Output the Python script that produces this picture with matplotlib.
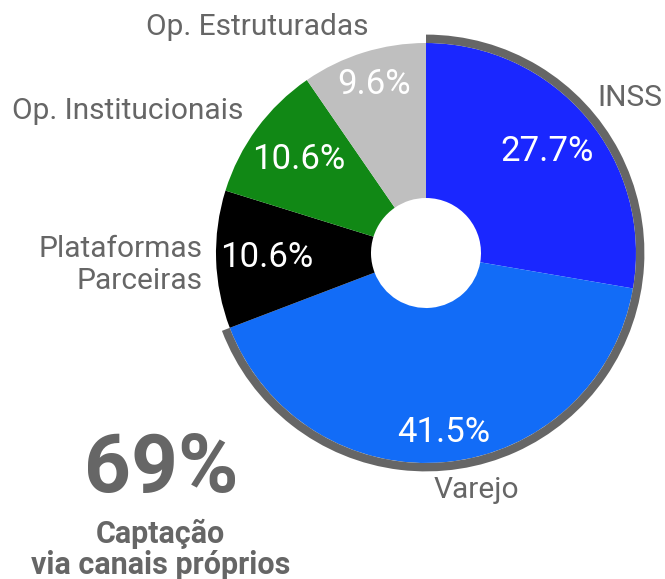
import matplotlib
matplotlib.use("Agg")
import matplotlib.pyplot as plt
from matplotlib.patches import Wedge
import numpy as np

# ---- data ----
categories = ["INSS", "Varejo", "Plataformas\nParceiras", "Op. Institucionais", "Op. Estruturadas"]
shares = [27.7, 41.5, 10.6, 10.6, 9.6]
colors = ["#1A27FF", "#126CF7", "#000000", "#118815", "#BFBFBF"]
own_channels = ["INSS", "Varejo"]
own_total_label = "69%"
caption_lines = ["Captação", "via canais próprios"]

# ---- style / layout ----
plt.rcParams['font.family'] = ['Roboto', 'DejaVu Sans']
W, H, DPI = 6.65, 5.79, 100
cx_px, cy_px, r_px = 426, 253, 210
gray = "#666666"

pct_dist = [0.752, 0.857, 0.757, 0.752, 0.838]
label_pos = [(597, 98, 'left'), (476, 490, 'center'), (202, 265, 'right'),
             (243, 111, 'right'), (257, 27, 'center')]

fig = plt.figure(figsize=(W, H), dpi=DPI)
ax = fig.add_axes([0, 0, 1, 1])

def px(x, y):
    return (x - cx_px) / r_px, (cy_px - y) / r_px

hole = 55 / r_px
wedges, _ = ax.pie(shares, colors=colors, startangle=90, counterclock=False,
                   radius=1.0, wedgeprops=dict(width=1 - hole, linewidth=0),
                   frame=True)
ax.set_xlim(-cx_px / r_px, (W * DPI - cx_px) / r_px)
ax.set_ylim(-(H * DPI - cy_px) / r_px, cy_px / r_px)
ax.set_aspect('equal')
ax.axis('off')

# outer arc around own channels
own_idx = [categories.index(c) for c in own_channels]
t1 = max(wedges[i].theta2 for i in own_idx)
t0 = min(wedges[i].theta1 for i in own_idx)
ax.add_patch(Wedge((0, 0), 1.04, t0, t1, width=0.04, facecolor=gray, edgecolor='none'))

# percentage labels
for w, s, d in zip(wedges, shares, pct_dist):
    ang = np.deg2rad((w.theta1 + w.theta2) / 2)
    ax.text(d * np.cos(ang), d * np.sin(ang), f"{s:.1f}%", color="white",
            fontsize=25, ha='center', va='center')

# category labels
for cat, (x, y, ha) in zip(categories, label_pos):
    xx, yy = px(x, y)
    ax.text(xx, yy, cat, color=gray, fontsize=21.5, ha=ha, va='center',
            linespacing=1.2, multialignment='right' if ha == 'right' else 'center')

# big number & caption
xx, yy = px(161, 470)
ax.text(xx, yy, own_total_label, color=gray, fontsize=59, fontweight='bold',
        ha='center', va='center')
xx, yy = px(160, 534)
ax.text(xx, yy, caption_lines[0], color=gray, fontsize=22, fontweight='bold',
        ha='center', va='center')
xx, yy = px(161, 565)
ax.text(xx, yy, caption_lines[1], color=gray, fontsize=22, fontweight='bold',
        ha='center', va='center')

fig.savefig("out.png", dpi=DPI)
